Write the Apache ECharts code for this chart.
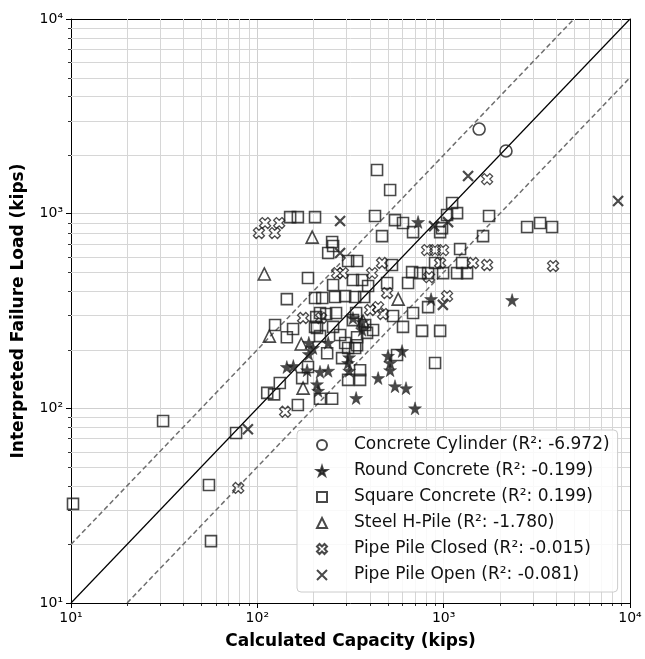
<!DOCTYPE html>
<html lang="en">
<head>
<meta charset="UTF-8">
<title>Calculated Capacity vs Interpreted Failure Load</title>
<script src="https://cdn.jsdelivr.net/npm/echarts@6.0.0/dist/echarts.min.js"></script>
<style>
    html, body { margin: 0; padding: 0; background: #fff; }
    #chart { width: 645px; height: 659px; }
</style>
</head>
<body>
<div id="chart"></div>
<script type="text/javascript">
// [calculated capacity, interpreted failure load] in kips
var concreteCylinder = [[1550, 2720], [2160, 2100]];

var roundConcrete = [
    [189, 217], [199, 204], [189, 190], [144, 163], [156, 165], [240, 217], [311, 183],
    [307, 171], [311, 156], [209, 133], [212, 123], [240, 156], [217, 154], [185, 157],
    [503, 186], [516, 171], [516, 157], [598, 197], [445, 143], [548, 130], [628, 127],
    [339, 113], [702, 100], [856, 364], [2330, 360], [729, 906], [365, 278], [365, 253],
    [326, 291]
];

var squareConcrete = [
    [439, 1675], [516, 1322], [150, 960], [165, 960], [204, 960], [428, 972], [548, 927],
    [605, 895], [467, 767], [685, 804], [957, 804], [1110, 1134], [1180, 1007], [1043, 984],
    [980, 843], [1752, 972], [1627, 767], [2804, 854], [3292, 895], [3818, 854], [255, 682],
    [240, 628], [307, 571], [343, 571], [1225, 658], [1256, 558], [899, 558], [528, 545],
    [187, 467], [255, 430], [326, 456], [365, 456], [393, 425], [497, 440], [644, 440],
    [677, 501], [747, 495], [825, 495], [993, 495], [1180, 495], [1335, 495], [144, 364],
    [204, 369], [223, 369], [261, 373], [296, 377], [335, 373], [374, 373], [252, 715],
    [825, 331], [685, 309], [535, 298], [605, 262], [766, 250], [957, 250], [899, 171],
    [343, 232], [335, 204], [307, 204], [356, 157], [356, 140], [307, 140], [285, 181],
    [237, 192], [187, 163], [174, 143], [132, 135], [113, 120], [123, 118], [165, 104],
    [217, 112], [252, 112], [31.2, 86.1], [76.9, 74.7], [124.5, 268], [155.5, 255.5],
    [144, 232], [207, 294], [204, 262], [217, 309], [234, 305], [264.5, 309], [209, 258.5],
    [217, 235], [255, 262], [278, 238], [326, 284], [379, 268], [296, 216.5], [343, 211],
    [388, 244], [418, 252.5], [339, 309], [562, 188], [10.25, 32.3], [55, 40.4], [56.4, 20.8]
];

var steelHPile = [[197, 758], [109, 490], [570, 364], [116, 235], [172, 214], [369, 281], [176, 127]];

var pipePileClosed = [
    [110, 895], [131, 895], [102, 795], [124, 795], [1710, 1505], [815, 650], [899, 650],
    [993, 650], [467, 558], [957, 558], [1438, 558], [1710, 545], [3865, 538], [268, 495],
    [288, 495], [413, 495], [835, 472], [497, 391], [1043, 377], [403, 320], [445, 331],
    [473, 305], [176, 291], [220, 291], [141, 96], [79, 39]
];

var pipePileOpen = [[1352, 1560], [8630, 1161], [278, 916], [888, 863], [1056, 905], [278, 628], [990, 340], [89, 78]];

var seriesNames = [
    'Concrete Cylinder (R\u00b2: -6.972)',
    'Round Concrete (R\u00b2: -0.199)',
    'Square Concrete (R\u00b2: 0.199)',
    'Steel H-Pile (R\u00b2: -1.780)',
    'Pipe Pile Closed (R\u00b2: -0.015)',
    'Pipe Pile Open (R\u00b2: -0.081)'
];

var axisMin = 10, axisMax = 10000;

// minor ticks 2..9 of every decade
var minorTicks = [];
for (var dec = 10; dec < axisMax; dec *= 10) {
    for (var k = 2; k <= 9; k++) minorTicks.push(dec * k);
}

var FONT = 'DejaVu Sans';
var INK = '#1c1c1c';
var sup = {1: '\u00b9', 2: '\u00b2', 3: '\u00b3', 4: '\u2074'};

var starPath = 'path://M50,0L61,35L98,35L68,57L79,91L50,70L21,91L32,57L2,35L39,35Z';
var fatXPath = 'path://M44,2L58,16L44,30L58,44L44,58L30,44L16,58L2,44L16,30L2,16L16,2L30,16Z';
var thinXPath = 'path://M0,0L10,10M10,0L0,10';

var chart = echarts.init(document.getElementById('chart'));

function px(v) { return Math.round(v) + 0.5; }

// minor grid lines + outward minor ticks, placed through the axes' own scale
function minorXItem(params, api) {
    var v = api.value(0);
    var b = api.coord([v, axisMin]);
    var t = api.coord([v, axisMax]);
    var x = px(b[0]);
    return {
        type: 'group',
        children: [
            {type: 'line', shape: {x1: x, y1: t[1], x2: x, y2: b[1]}, style: {stroke: '#d6d6d6', lineWidth: 1}},
            {type: 'line', shape: {x1: x, y1: b[1], x2: x, y2: b[1] + 3}, style: {stroke: '#000', lineWidth: 0.8}}
        ]
    };
}
function minorYItem(params, api) {
    var v = api.value(1);
    var l = api.coord([axisMin, v]);
    var r = api.coord([axisMax, v]);
    var y = px(l[1]);
    return {
        type: 'group',
        children: [
            {type: 'line', shape: {x1: l[0], y1: y, x2: r[0], y2: y}, style: {stroke: '#d6d6d6', lineWidth: 1}},
            {type: 'line', shape: {x1: l[0] - 3, y1: y, x2: l[0], y2: y}, style: {stroke: '#000', lineWidth: 0.8}}
        ]
    };
}

function logAxis(extra) {
    var ax = {
        type: 'log',
        logBase: 10,
        min: axisMin,
        max: axisMax,
        axisLine: {show: true, lineStyle: {color: '#000', width: 1}},
        axisTick: {show: true, inside: false, length: 5, lineStyle: {color: '#000', width: 1}},
        axisLabel: {
            show: true, margin: 8, color: '#000', fontFamily: FONT, fontSize: 14,
            formatter: function (v) { return '10' + sup[Math.round(Math.log10(v))]; }
        },
        splitLine: {show: true, lineStyle: {color: '#cfcfcf', width: 1}},
        nameLocation: 'middle',
        nameTextStyle: {fontFamily: FONT, fontSize: 17, fontWeight: 'bold', color: '#000'}
    };
    for (var key in extra) ax[key] = extra[key];
    return ax;
}

function frameAxis(pos) {
    return {
        type: 'log', logBase: 10, min: axisMin, max: axisMax, position: pos,
        axisLine: {show: true, lineStyle: {color: '#000', width: 1}},
        axisTick: {show: false}, axisLabel: {show: false}, splitLine: {show: false}
    };
}

var markerStyle = {color: 'transparent', borderColor: INK, borderWidth: 1.6};

var option = {
    animation: false,
    backgroundColor: '#fff',
    grid: {left: 71, right: 15, top: 19, bottom: 56, outerBoundsMode: 'none'},
    xAxis: [
        logAxis({name: 'Calculated Capacity (kips)', nameGap: 30}),
        frameAxis('top')
    ],
    yAxis: [
        logAxis({name: 'Interpreted Failure Load (kips)', nameGap: 44}),
        frameAxis('right')
    ],
    legend: {
        orient: 'vertical',
        left: 297,
        top: 430,
        backgroundColor: 'rgba(255,255,255,0.85)',
        borderColor: '#cccccc',
        borderWidth: 1,
        borderRadius: 4,
        padding: [5, 8, 7, 19],
        itemWidth: 10,
        itemHeight: 10,
        itemGap: 6,
        textStyle: {fontFamily: FONT, fontSize: 17, color: '#111', lineHeight: 20, padding: [0, 0, 0, 22]},
        data: seriesNames
    },
    series: [
        {
            type: 'custom', z: 1, silent: true, clip: false,
            data: minorTicks.map(function (v) { return [v, axisMin]; }),
            renderItem: minorXItem
        },
        {
            type: 'custom', z: 1, silent: true, clip: false,
            data: minorTicks.map(function (v) { return [axisMin, v]; }),
            renderItem: minorYItem
        },
        {
            type: 'line', z: 2, silent: true, symbol: 'none',
            data: [[axisMin, axisMin], [axisMax, axisMax]],
            lineStyle: {color: '#000', width: 1.2}
        },
        {
            type: 'line', z: 2, silent: true, symbol: 'none',
            data: [[axisMin, axisMin * 2], [axisMax / 2, axisMax]],
            lineStyle: {color: '#6e6e6e', width: 1.5, type: [5, 3]}
        },
        {
            type: 'line', z: 2, silent: true, symbol: 'none',
            data: [[axisMin * 2, axisMin], [axisMax, axisMax / 2]],
            lineStyle: {color: '#6e6e6e', width: 1.5, type: [5, 3]}
        },
        {
            name: seriesNames[0], type: 'scatter', z: 3, symbol: 'circle', symbolSize: 12,
            data: concreteCylinder, itemStyle: markerStyle
        },
        {
            name: seriesNames[1], type: 'scatter', z: 4, symbol: starPath, symbolSize: 13,
            data: roundConcrete, itemStyle: {color: INK, borderColor: INK, borderWidth: 0.5}
        },
        {
            name: seriesNames[2], type: 'scatter', z: 3, symbol: 'rect', symbolSize: 11,
            data: squareConcrete, itemStyle: markerStyle
        },
        {
            name: seriesNames[3], type: 'scatter', z: 3, symbol: 'triangle', symbolSize: 12,
            data: steelHPile, itemStyle: markerStyle
        },
        {
            name: seriesNames[4], type: 'scatter', z: 3, symbol: fatXPath, symbolSize: 11,
            data: pipePileClosed, itemStyle: {color: 'transparent', borderColor: INK, borderWidth: 1.3}
        },
        {
            name: seriesNames[5], type: 'scatter', z: 3, symbol: thinXPath, symbolSize: 10,
            data: pipePileOpen, itemStyle: {color: 'transparent', borderColor: INK, borderWidth: 2.2}
        }
    ]
};

chart.setOption(option);
</script>
</body>
</html>
